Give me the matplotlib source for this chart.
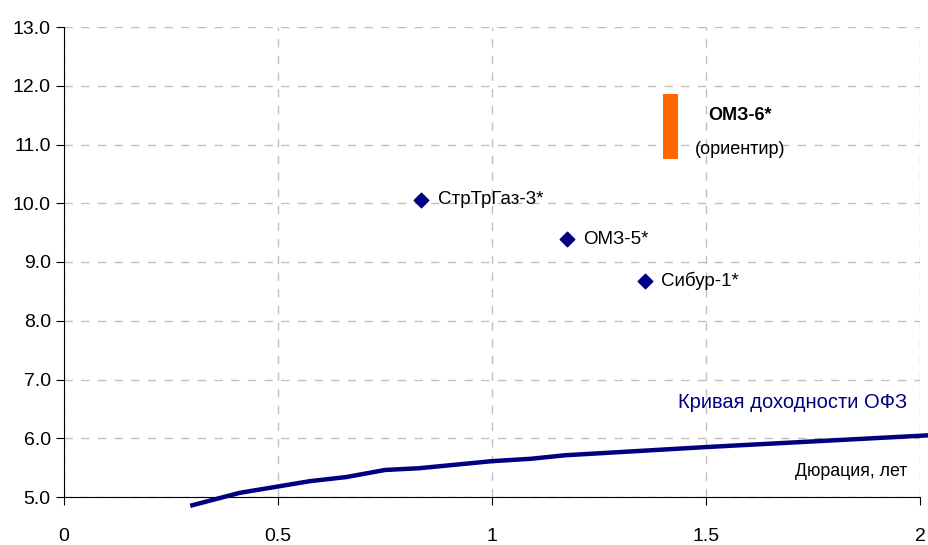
import matplotlib.pyplot as plt
from matplotlib.ticker import FormatStrFormatter

plt.rcParams['font.family'] = ['Liberation Sans', 'DejaVu Sans']

# кривая ОФЗ
ofz_dur = [0.30, 0.41, 0.575, 0.66, 0.75, 0.83, 1.0, 1.09, 1.17, 1.5, 2.02]
ofz_yield = [4.86, 5.07, 5.27, 5.34, 5.46, 5.49, 5.61, 5.65, 5.71, 5.85, 6.05]

# выпуски
bond_names = ["СтрТрГаз-3*", "ОМЗ-5*", "Сибур-1*"]
bond_dur = [0.834, 1.175, 1.357]
bond_yield = [10.06, 9.39, 8.68]

# ориентир ОМЗ-6
omz6_dur = 1.416
omz6_low = 10.75
omz6_high = 11.86

fig = plt.figure(figsize=(9.29, 5.45), dpi=100)
ax = fig.add_axes([64 / 929, 48 / 545, 856 / 929, 470 / 545])

ax.plot(ofz_dur, ofz_yield, color="#000080", lw=3.2, clip_on=False, zorder=3)
ax.scatter(bond_dur, bond_yield, marker="D", s=55, color="#000080", zorder=4)
for name, x, y in zip(bond_names, bond_dur, bond_yield):
    ax.annotate(name, (x, y), xytext=(12, 0), textcoords="offset points",
                va="center", fontsize=13.5)

ax.bar(omz6_dur, omz6_high - omz6_low, bottom=omz6_low, width=0.035,
       color="#FF6600", zorder=3)
ax.text(1.505, 11.5, "ОМЗ-6*", fontsize=13, fontweight="bold",
        ha="left", va="center")
ax.text(1.474, 10.92, "(ориентир)", fontsize=13, ha="left", va="center")

ax.text(1.97, 6.6, "Кривая доходности ОФЗ", fontsize=14.5, color="#000080",
        ha="right", va="center")
ax.text(1.97, 5.43, "Дюрация, лет", fontsize=12.8, ha="right", va="center")

ax.set_xlim(0, 2)
ax.set_ylim(5, 13)
ax.set_xticks([0, 0.5, 1, 1.5, 2])
ax.set_xticklabels(["0", "0.5", "1", "1.5", "2"])
ax.set_yticks(range(5, 14))
ax.yaxis.set_major_formatter(FormatStrFormatter("%.1f"))
ax.tick_params(labelsize=14, length=6, direction="out")
ax.tick_params(axis="x", pad=16)
ax.grid(True, color="#c0c0c0", ls=(0, (6, 6)), lw=1)
ax.set_axisbelow(True)
for s in ["top", "right"]:
    ax.spines[s].set_visible(False)

fig.savefig("out.png", dpi=100)
